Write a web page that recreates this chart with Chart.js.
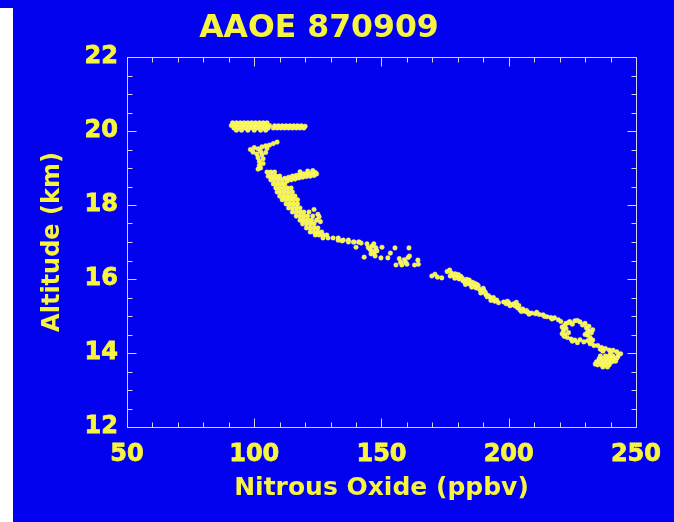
<!DOCTYPE html>
<html>
<head>
<meta charset="utf-8">
<script src="https://cdn.jsdelivr.net/npm/chart.js@4.4.1/dist/chart.umd.min.js"></script>
<style>
  html, body { margin: 0; padding: 0; background: #ffffff; }
  #wrap { width: 674px; height: 522px; }
</style>
</head>
<body>
<div id="wrap"><canvas id="c" width="674" height="522"></canvas></div>
<script>
// ---- Data (N2O ppbv, altitude km) ----
const upperBand = [
  [91.5,20.22],[93,20.22],[94.5,20.22],[96,20.22],[97.5,20.22],[99,20.22],[100.5,20.22],[102,20.22],[103.5,20.22],[105,20.22],
  [91,20.15],[92.5,20.15],[94,20.15],[95.5,20.15],[97,20.15],[98.5,20.15],[100,20.15],[101.5,20.15],[103,20.15],[104.5,20.15],[106,20.15],
  [92,20.08],[93.5,20.08],[95,20.08],[96.5,20.08],[98,20.08],[99.5,20.08],[101,20.08],[102.5,20.08],[104,20.08],[105.5,20.08],
  [93,20.02],[95,20.02],[97.5,20.02],[100,20.02],[102.5,20.02],[104.5,20.02],
  [108,20.14],[109.5,20.14],[111,20.14],[112.5,20.14],[114,20.14],[115.5,20.14],[117,20.14],[118.5,20.14],[120,20.13],
  [107.5,20.08],[109,20.08],[110.5,20.08],[112,20.08],[113.5,20.08],[115,20.08],[116.5,20.08],[118,20.08],[119.5,20.08]
];
const hook = [
  [98.5,19.50],[100,19.55],[101.5,19.52],[103,19.57],[104.5,19.60],[106,19.62],[107.5,19.66],[109,19.70],[105,19.53],
  [102.5,19.45],[99.5,19.43],[101,19.38],[103,19.36],[104.5,19.42],[101.5,19.28],[103.5,19.25],[102,19.18],[103.5,19.12],
  [102,19.07],[102.5,19.00],[101.5,18.97]
];
const rightBranch = [
  [112,18.72],[113.5,18.75],[115,18.78],[116.5,18.80],[118,18.82],[119.5,18.84],[121,18.85],[122.5,18.86],[124,18.88],
  [113,18.65],[114.5,18.68],[116,18.70],[117.5,18.73],[119,18.75],[120.5,18.77],[122,18.78],[123.5,18.80],[124.5,18.84],
  [118,18.90],[121,18.92],[123,18.93]
];
const mainRibbon = [
  [105,18.89],[106.5,18.89],[108,18.89],
  [105.5,18.78],[107,18.78],[108.5,18.78],[110,18.78],
  [106.5,18.68],[108,18.68],[109.5,18.68],[111,18.68],
  [107.5,18.57],[109,18.57],[110.5,18.57],[112,18.57],
  [108.5,18.46],[110,18.46],[111.5,18.46],[113,18.46],[114.5,18.46],
  [109,18.35],[110.5,18.35],[112,18.35],[113.5,18.35],[115,18.35],
  [110,18.24],[111.5,18.24],[113,18.24],[114.5,18.24],[116,18.24],
  [111,18.14],[112.5,18.14],[114,18.14],[115.5,18.14],[117,18.14],
  [112.5,18.03],[114,18.03],[115.5,18.03],[117,18.03],
  [113.5,17.92],[115,17.92],[116.5,17.92],[118,17.92],[123.5,17.88],
  [115,17.81],[116.5,17.81],[118,17.81],[119.5,17.81],[121.5,17.81],[125,17.75],
  [116.5,17.70],[118,17.70],[119.5,17.70],[121,17.70],[123,17.70],[125.5,17.68],
  [118,17.59],[119.5,17.59],[121,17.59],[122.5,17.59],[124.5,17.59],[126,17.55],
  [119,17.49],[120.5,17.49],[122,17.49],[123.5,17.49],
  [120.5,17.38],[122,17.38],[123.5,17.38],[125,17.38],
  [122,17.27],[123.5,17.27],[125,17.27],[126.5,17.27],
  [124,17.19],[125.5,17.19],[127,17.19],[128.5,17.19],
  [127,17.11],[129,17.11],[131,17.11],[133,17.11],
  [133,17.05],[135,17.05],[137,17.05],
  [139,17.00],[141,17.00]
];
const midScatter = [
  [139.2,17.00],[141.2,17.00],[140,16.86],[143.2,16.59],[134.5,17.03],[137,17.00],[142,16.97],
  [144.3,16.95],[146.3,16.89],[147.8,16.84],[147,16.70],[145.9,16.68],[148.2,16.76],[145.5,16.80],[147,16.95],
  [144.8,16.85],[146.5,16.75],[147.5,16.62],
  [149.8,16.57],[150.2,16.86],[152.5,16.57],[153.5,16.70],[155.3,16.84],[160.8,16.84],[155.7,16.38],
  [157.5,16.45],[159,16.52],[160.5,16.58],[158,16.38],[161,16.62],[159.5,16.45],[160,16.40],[157,16.55],
  [163,16.38],[164.5,16.40],[164.3,16.51]
];
const lowerRibbon = [
  [169.8,16.08],[171,16.13],[172,16.05],[173.7,16.03],
  [175.8,16.20],[176.8,16.24],[177.5,16.16],[178.2,16.10],[179,16.14],[179.8,16.05],[180.5,16.00],[181.2,16.07],
  [182,15.95],[182.8,15.92],[183.5,15.99],[184.2,15.88],[184.5,15.97],[185,15.85],[185.8,15.91],[186.5,15.80],
  [187.2,15.76],[187.5,15.85],[188,15.82],[188.8,15.70],[189.5,15.65],[190,15.75],[190.3,15.68],[191,15.58],
  [192,15.55],[192.8,15.50],[193.6,15.46],[194.5,15.40],[195.3,15.43],
  [198,15.38],[199,15.33],[200,15.36],[201,15.30],[202,15.33],[203,15.37],[203.5,15.22],[204.5,15.16],
  [205.5,15.19],[206.5,15.12],[207.5,15.10],[209,15.08],[210.5,15.06],[212,15.04],[213.5,15.03],[215,14.98],
  [216.5,14.96],[218,14.95],[219.5,14.90],[220.5,14.85],
  [177,16.08],[178.8,16.02],[180.2,16.12],[181.8,16.02],[183,15.85],[184,15.93],[185.5,15.78],[186.8,15.88],
  [188.2,15.74],[189,15.62],[190.8,15.64],[191.5,15.52],[193,15.42],[194,15.50],[196,15.36],[199.5,15.40],
  [200.5,15.28],[202.5,15.27],[204,15.28],[205,15.12],[207,15.15],[208,15.05],[211,15.10],[214,14.99],[217,14.92]
];
const ringAndTip = [
  [224,14.85],[226,14.87],[228,14.84],[230,14.80],[225,14.78],[229,14.76],[222.5,14.80],[223.5,14.82],[227,14.88],
  [221,14.70],[221.5,14.60],[222,14.50],[223,14.42],[222.5,14.66],[223.5,14.55],[221,14.52],[222,14.74],[221.8,14.45],
  [230.5,14.68],[231.5,14.60],[232.5,14.55],[231,14.48],[232,14.42],[233,14.63],[230,14.50],[231.5,14.72],[230.8,14.55],
  [224.5,14.38],[226,14.35],[228,14.36],[229.5,14.30],[231,14.33],[227,14.28],[232,14.25],[233.5,14.20],
  [233,14.35],[232.5,14.30],[225,14.32],
  [235,14.20],[236.5,14.15],[238,14.12],[239.5,14.08],[241,14.07],[242.5,14.03],[244,13.98],[237,14.05],
  [240,14.00],[236,14.10],[243,13.92]
];
const bottomBlob = [
  [236,13.92],[238,13.92],[239.5,13.92],[241,13.92],
  [235.5,13.84],[237,13.84],[238.5,13.84],[240,13.84],[241.5,13.84],[242.5,13.86],
  [234.5,13.76],[236,13.76],[237.5,13.76],[239,13.76],[240.5,13.76],[242,13.78],
  [234,13.70],[235,13.68],[236.5,13.68],[238,13.68],[239.5,13.68],[237,13.62],[238.8,13.62]
];

const xTickLabels = [50, 100, 150, 200, 250];
const yTickLabels = [12, 14, 16, 18, 20, 22];
const xMinorTicks = [60,70,80,90,110,120,130,140,160,170,180,190,210,220,230,240];
const yMinorTicks = [12.5,13,13.5,14.5,15,15.5,16.5,17,17.5,18.5,19,19.5,20.5,21,21.5];

const chartTitle = 'AAOE 870909';
const xTitle = 'Nitrous Oxide (ppbv)';
const yTitle = 'Altitude (km)';

// ---- Styling ----
const BLUE = 'rgb(2,2,240)';
const YELLOW = '#f7f43f';
const FRAME = '#d4d4e4';
const FONT = 'DejaVu Sans';

const allPoints = [].concat(upperBand, hook, rightBranch, mainRibbon, midScatter, lowerRibbon, ringAndTip, bottomBlob)
  .map(p => ({ x: p[0], y: p[1] }));

const bgPlugin = {
  id: 'bg',
  beforeDraw(chart) {
    const c = chart.ctx;
    c.save();
    c.fillStyle = BLUE;
    c.fillRect(0, 0, chart.width, chart.height);
    c.fillStyle = '#ffffff';
    c.fillRect(0, 8, 13, chart.height - 8);
    c.restore();
  }
};

const framePlugin = {
  id: 'frame',
  afterDraw(chart) {
    const c = chart.ctx;
    const a = chart.chartArea;
    const xs = chart.scales.x, ys = chart.scales.y;
    c.save();
    c.strokeStyle = FRAME;
    c.lineWidth = 1;
    const L = Math.round(a.left) + 0.5, R = Math.round(a.right) + 0.5;
    const T = Math.round(a.top) + 0.5, B = Math.round(a.bottom) + 0.5;
    c.strokeRect(L, T, R - L, B - T);
    c.beginPath();
    const xt = (v, len) => {
      const px = Math.round(xs.getPixelForValue(v)) + 0.5;
      c.moveTo(px, B); c.lineTo(px, B - len);
      c.moveTo(px, T); c.lineTo(px, T + len);
    };
    const yt = (v, len) => {
      const py = Math.round(ys.getPixelForValue(v)) + 0.5;
      c.moveTo(L, py); c.lineTo(L + len, py);
      c.moveTo(R, py); c.lineTo(R - len, py);
    };
    xTickLabels.forEach(v => xt(v, 9));
    xMinorTicks.forEach(v => xt(v, 5));
    yTickLabels.forEach(v => yt(v, 9));
    yMinorTicks.forEach(v => yt(v, 5));
    c.stroke();
    c.restore();
  }
};

new Chart(document.getElementById('c'), {
  type: 'scatter',
  data: {
    datasets: [{
      data: allPoints,
      backgroundColor: YELLOW,
      borderColor: 'rgba(255,255,215,0.9)',
      borderWidth: 0.4,
      pointRadius: 2.3,
      pointHoverRadius: 2.3
    }]
  },
  options: {
    responsive: false,
    devicePixelRatio: 1,
    animation: false,
    events: [],
    layout: { padding: { left: 0, right: 36, top: 0, bottom: 0 } },
    plugins: {
      legend: { display: false },
      tooltip: { enabled: false },
      title: {
        display: true,
        text: chartTitle,
        color: YELLOW,
        font: { family: FONT, size: 31.5, weight: 'bold', lineHeight: 1.2 },
        padding: { top: 9.5, bottom: 9.7 }
      }
    },
    scales: {
      x: {
        type: 'linear',
        min: 50, max: 250,
        afterBuildTicks: s => { s.ticks = xTickLabels.map(v => ({ value: v })); },
        afterFit: s => { s.height = 95; },
        grid: { display: false, drawTicks: false },
        border: { display: false },
        ticks: { color: YELLOW, padding: 13, maxRotation: 0, textStrokeColor: YELLOW, textStrokeWidth: 0.8,
                 font: { family: FONT, size: 24, weight: 'bold', lineHeight: 1.2 } },
        title: {
          display: true, text: xTitle, color: YELLOW,
          font: { family: FONT, size: 25, weight: 'bold', lineHeight: 1.2 },
          padding: { top: 0, bottom: 19 }
        }
      },
      y: {
        type: 'linear',
        min: 12, max: 22,
        afterBuildTicks: s => { s.ticks = yTickLabels.map(v => ({ value: v })); },
        afterFit: s => { s.width = 127; },
        grid: { display: false, drawTicks: false },
        border: { display: false },
        ticks: { color: YELLOW, padding: 9, textStrokeColor: YELLOW, textStrokeWidth: 0.8,
                 font: { family: FONT, size: 24, weight: 'bold', lineHeight: 1.2 } },
        title: {
          display: true, text: yTitle, color: YELLOW,
          font: { family: FONT, size: 24, weight: 'bold', lineHeight: 1.2 },
          padding: { top: 38.6, bottom: 0 }
        }
      }
    }
  },
  plugins: [bgPlugin, framePlugin]
});
</script>
</body>
</html>
